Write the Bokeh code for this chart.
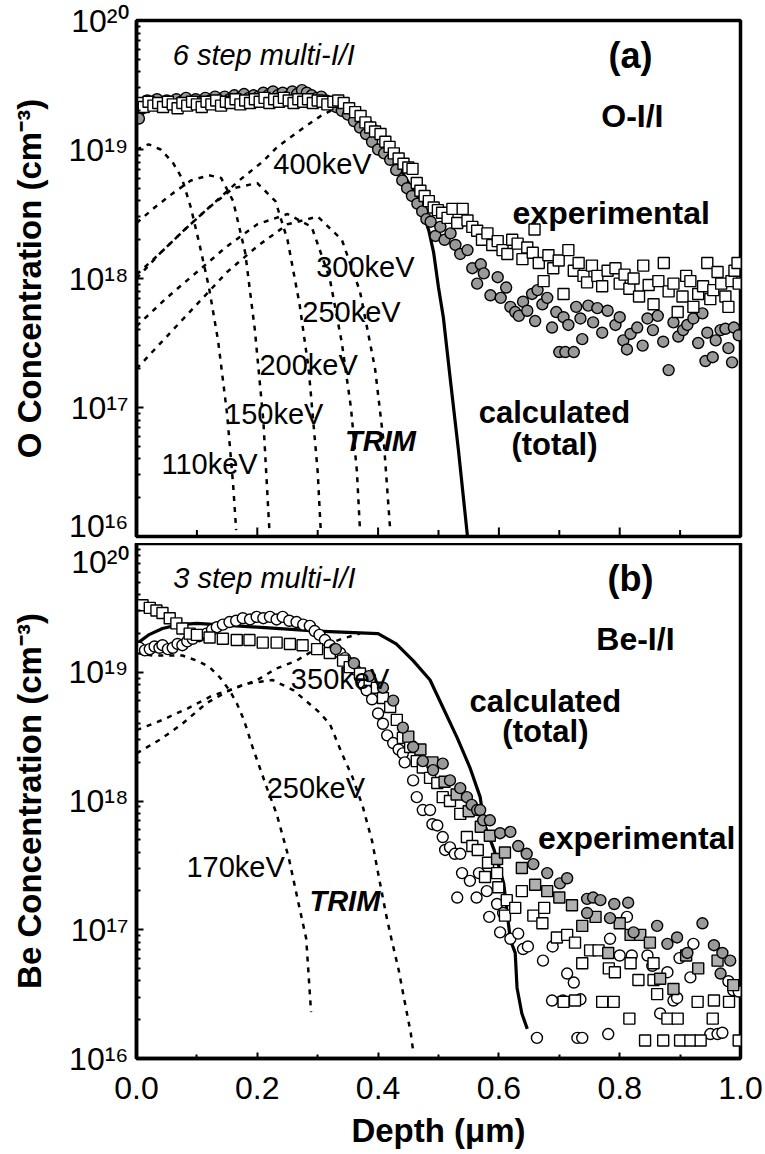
from bokeh.plotting import figure
from bokeh.layouts import column
from bokeh.models import Range1d, FixedTicker, Label
from bokeh.embed import file_html
from bokeh.resources import INLINE

FONT = "Liberation Sans"

# ---------------- Panel (a): O implantation (values are log10 of concentration, cm^-3) ----------------
a_sq_x = [0.004,0.012,0.020,0.028,0.036,0.044,0.052,0.060,0.068,0.076,0.084,0.092,0.100,0.108,0.116,0.124,0.132,0.140,0.148,0.156,
          0.164,0.172,0.180,0.188,0.196,0.204,0.212,0.220,0.228,0.236,0.244,0.252,0.260,0.268,0.276,0.284,0.292,0.300,0.308,0.316,
          0.326,0.334,0.343,0.352,0.362,0.371,0.379,0.387,0.395,0.404,0.412,0.419,0.426,0.434,0.442,0.450,0.457,0.464,0.470,0.477,
          0.484,0.492,0.499,0.506,0.515,0.523,0.531,0.540,0.548,0.556,0.564,0.572,0.581,0.589,0.598,0.606,0.614,0.622,0.631,0.639,
          0.647,0.656,0.659,0.666,0.674,0.682,0.690,0.699,0.707,0.715,0.724,0.732,0.740,0.746,0.754,0.763,0.771,0.780,0.793,0.800,
          0.808,0.816,0.823,0.832,0.839,0.848,0.856,0.864,0.873,0.881,0.889,0.896,0.904,0.910,0.917,0.922,0.930,0.938,0.945,0.950,
          0.955,0.962,0.968,0.975,0.980,0.985,0.990,0.995,0.997]
a_sq_log = [19.36,19.33,19.37,19.34,19.36,19.33,19.37,19.35,19.32,19.36,19.34,19.37,19.35,19.33,19.37,19.35,19.38,19.34,19.37,19.36,
            19.39,19.35,19.38,19.36,19.39,19.37,19.40,19.36,19.39,19.37,19.40,19.38,19.36,19.39,19.37,19.39,19.36,19.38,19.37,19.35,
            19.37,19.38,19.36,19.32,19.29,19.26,19.21,19.17,19.14,19.12,19.06,19.02,18.97,18.93,18.89,18.86,18.85,18.74,18.68,18.64,
            18.60,18.55,18.53,18.51,18.47,18.54,18.43,18.54,18.45,18.40,18.37,18.30,18.35,18.26,18.29,18.22,18.19,18.30,18.27,18.15,
            18.24,18.20,18.38,18.12,17.98,18.18,18.08,18.14,17.88,18.22,18.06,18.12,18.02,17.97,18.10,18.02,17.94,18.06,18.08,17.96,
            18.03,17.92,18.00,17.86,18.10,17.95,17.80,17.98,18.12,17.90,17.96,17.74,17.86,18.02,17.98,17.78,17.88,17.94,18.12,17.84,
            17.91,18.05,17.96,17.86,17.78,17.98,18.06,18.12,17.96]

a_ci_x = [0.004,0.010,0.018,0.026,0.034,0.042,0.050,0.058,0.066,0.074,0.082,0.090,0.098,0.106,0.114,0.122,0.130,0.138,0.146,0.154,
          0.162,0.170,0.178,0.186,0.194,0.202,0.210,0.218,0.226,0.234,0.242,0.250,0.258,0.266,0.274,0.282,0.290,0.298,0.306,0.314,
          0.322,0.330,0.340,0.350,0.360,0.370,0.380,0.390,0.400,0.410,0.420,0.430,0.440,0.448,0.456,0.465,0.473,0.480,0.487,0.495,
          0.503,0.510,0.520,0.528,0.536,0.548,0.556,0.564,0.570,0.575,0.586,0.598,0.603,0.612,0.619,0.627,0.633,0.640,0.647,0.655,
          0.660,0.664,0.672,0.680,0.688,0.695,0.700,0.707,0.710,0.715,0.724,0.728,0.735,0.738,0.748,0.756,0.763,0.771,0.780,0.793,
          0.800,0.806,0.812,0.818,0.829,0.838,0.846,0.855,0.863,0.872,0.881,0.889,0.897,0.905,0.912,0.922,0.930,0.937,0.942,0.945,
          0.954,0.959,0.967,0.975,0.980,0.986,0.989,0.997]
a_ci_log = [19.24,19.35,19.38,19.35,19.39,19.36,19.38,19.35,19.39,19.37,19.40,19.36,19.39,19.37,19.40,19.38,19.41,19.38,19.41,19.39,
            19.42,19.40,19.43,19.40,19.42,19.41,19.44,19.42,19.45,19.42,19.44,19.41,19.45,19.43,19.46,19.44,19.42,19.40,19.41,19.38,
            19.36,19.33,19.30,19.27,19.22,19.17,19.12,19.06,19.00,18.97,18.92,18.84,18.76,18.70,18.64,18.58,18.52,18.46,18.44,18.33,
            18.40,18.30,18.35,18.26,18.19,18.22,18.08,17.96,18.11,18.04,17.87,18.01,17.85,17.93,17.78,17.74,17.71,17.82,17.75,17.88,
            17.67,17.91,17.80,17.85,17.62,17.74,17.43,17.70,17.43,17.64,17.43,17.78,17.69,17.53,17.79,17.66,17.77,17.58,17.75,17.64,
            17.70,17.52,17.45,17.57,17.62,17.48,17.69,17.60,17.71,17.51,17.29,17.66,17.55,17.60,17.64,17.69,17.50,17.73,17.36,17.58,
            17.39,17.52,17.60,17.61,17.46,17.35,17.62,17.56]

a_calc_x = [0.0,0.01,0.03,0.06,0.10,0.15,0.20,0.25,0.30,0.33,0.35,0.376,0.399,0.415,0.432,0.448,0.465,0.475,0.484,0.492,0.500,0.508,0.520,0.533,0.548]
a_calc_log = [19.22,19.28,19.33,19.35,19.36,19.37,19.38,19.38,19.37,19.35,19.32,19.26,19.17,19.03,18.89,18.76,18.63,18.50,18.37,18.20,17.93,17.70,17.20,16.67,16.0]

a_trim_110_x = [0.0,0.02,0.04,0.06,0.075,0.09,0.105,0.12,0.135,0.15,0.16,0.165]
a_trim_110_log = [19.0,19.04,19.0,18.9,18.78,18.55,18.25,17.93,17.52,16.95,16.4,16.05]
a_trim_150_x = [0.0,0.03,0.06,0.09,0.12,0.14,0.16,0.18,0.196,0.21,0.22]
a_trim_150_log = [18.43,18.55,18.66,18.76,18.80,18.78,18.60,18.20,17.60,16.90,16.05]
a_trim_200_x = [0.0,0.04,0.08,0.12,0.16,0.20,0.23,0.25,0.27,0.285,0.30,0.305]
a_trim_200_log = [18.03,18.20,18.38,18.55,18.70,18.74,18.60,18.30,17.80,17.30,16.50,16.05]
a_trim_250_x = [0.0,0.05,0.10,0.15,0.20,0.25,0.29,0.32,0.34,0.355,0.365,0.37]
a_trim_250_log = [17.63,17.85,18.05,18.25,18.42,18.50,18.40,18.00,17.50,17.00,16.50,16.05]
a_trim_300_x = [0.0,0.05,0.10,0.15,0.20,0.25,0.30,0.34,0.37,0.395,0.41,0.42]
a_trim_300_log = [17.30,17.55,17.80,18.05,18.25,18.42,18.48,18.30,17.90,17.30,16.70,16.05]
a_trim_400_x = [0.0,0.04,0.08,0.12,0.17,0.21,0.233,0.277,0.305,0.321,0.34]
a_trim_400_log = [18.0,18.2,18.38,18.55,18.76,18.91,19.02,19.17,19.26,19.30,19.33]

# ---------------- Panel (b): Be implantation ----------------
b_ci_x = [0.005,0.014,0.022,0.030,0.038,0.043,0.052,0.060,0.068,0.076,0.084,0.093,0.104,0.116,0.125,0.133,0.143,0.154,0.165,0.176,
          0.188,0.199,0.210,0.221,0.232,0.242,0.253,0.265,0.276,0.287,0.295,0.303,0.312,0.320,0.328,0.337,0.345,0.353,0.362,0.370,
          0.376,0.381,0.390,0.400,0.408,0.415,0.425,0.434,0.441,0.444,0.458,0.464,0.474,0.486,0.490,0.498,0.507,0.511,0.519,0.527,
          0.531,0.536,0.539,0.552,0.563,0.567,0.580,0.584,0.597,0.602,0.607,0.619,0.632,0.640,0.648,0.663,0.673,0.688,0.689,0.706,
          0.713,0.724,0.730,0.735,0.738,0.781,0.784,0.800,0.812,0.820,0.846,0.854,0.867,0.879,0.889,0.895,0.899,0.917,0.922,0.950,
          0.962,0.970,0.980,0.988,0.997]
b_ci_log = [19.19,19.17,19.18,19.20,19.19,19.21,19.18,19.19,19.22,19.21,19.24,19.26,19.28,19.30,19.33,19.35,19.37,19.39,19.40,19.42,
            19.41,19.43,19.42,19.43,19.41,19.43,19.40,19.39,19.37,19.36,19.32,19.29,19.25,19.21,19.18,19.15,19.11,19.07,19.02,18.96,
            18.90,18.86,18.79,18.68,18.60,18.51,18.45,18.40,18.37,18.30,18.16,18.03,17.93,17.93,17.82,17.81,17.72,17.62,17.64,17.59,
            17.25,17.59,17.44,17.38,17.25,17.44,17.30,17.10,17.20,16.98,17.13,16.93,16.97,16.85,16.87,16.16,16.76,16.45,16.87,16.45,
            16.66,16.59,16.16,16.46,16.16,16.19,16.93,16.80,17.10,16.80,16.80,16.72,16.35,16.67,16.45,16.47,16.78,16.63,16.89,16.19,
            16.19,16.20,16.60,16.53,16.52]

b_sq_x = [0.010,0.022,0.033,0.043,0.055,0.066,0.076,0.088,0.100,0.121,0.143,0.166,0.187,0.209,0.232,0.254,0.275,0.299,0.320,0.342,
          0.353,0.370,0.386,0.398,0.408,0.420,0.431,0.441,0.453,0.464,0.474,0.486,0.498,0.507,0.519,0.536,0.547,0.556,0.565,0.577,
          0.582,0.597,0.599,0.610,0.613,0.627,0.638,0.657,0.672,0.675,0.696,0.707,0.713,0.726,0.726,0.738,0.751,0.765,0.771,0.782,
          0.790,0.792,0.816,0.818,0.831,0.842,0.856,0.856,0.862,0.872,0.879,0.896,0.900,0.917,0.929,0.934,0.954,0.956,0.981,0.997]
b_sq_log = [19.52,19.50,19.48,19.46,19.42,19.38,19.34,19.30,19.29,19.27,19.26,19.25,19.25,19.23,19.23,19.22,19.21,19.18,19.15,19.09,
            19.04,18.99,18.94,18.88,18.80,18.73,18.63,18.49,18.42,18.31,18.26,18.18,18.14,18.03,18.00,17.90,17.72,17.65,17.62,17.41,
            17.52,17.44,17.33,17.11,17.23,17.17,17.30,17.11,17.05,17.17,16.94,16.44,16.96,16.90,16.45,16.74,16.84,16.84,16.44,16.70,
            16.44,16.67,16.31,16.74,16.61,16.14,16.74,16.61,16.50,16.14,16.31,16.31,16.14,16.14,16.44,16.14,16.31,16.45,16.44,16.14]

b_gsq_x = [0.450,0.470,0.490,0.510,0.530,0.550,0.570,0.585,0.597,0.610,0.638,0.660,0.680,0.700,0.721,0.738,0.760,0.781,0.800,0.818,
           0.834,0.850,0.867,0.889,0.910,0.930,0.962,0.988]
b_gsq_log = [18.50,18.40,18.30,18.15,18.05,17.92,17.80,17.73,17.55,17.60,17.48,17.35,17.30,17.25,17.19,17.03,17.10,16.82,17.05,16.96,
             16.96,16.90,16.62,16.54,16.80,16.70,16.76,16.57]

b_gci_x = [0.330,0.360,0.385,0.408,0.425,0.441,0.458,0.474,0.491,0.507,0.519,0.536,0.547,0.555,0.564,0.569,0.574,0.585,0.602,0.619,
           0.632,0.646,0.657,0.680,0.701,0.713,0.746,0.746,0.756,0.768,0.784,0.791,0.814,0.823,0.862,0.879,0.895,0.912,0.937,0.956,
           0.967,0.970,0.983]
b_gci_log = [19.18,19.07,18.97,18.88,18.78,18.57,18.42,18.31,18.24,18.29,18.16,18.10,18.03,17.97,17.93,17.93,17.85,17.85,17.75,17.76,
             17.65,17.59,17.51,17.44,17.36,17.40,17.24,17.13,17.25,17.23,17.09,17.20,17.21,16.98,17.03,16.89,16.94,16.82,17.05,16.88,
             16.66,16.82,16.76]

b_calc_x = [0.0,0.02,0.043,0.07,0.10,0.20,0.30,0.40,0.43,0.458,0.486,0.507,0.531,0.552,0.569,0.576,0.592,0.608,0.619,0.627,0.630,0.638,0.647]
b_calc_log = [19.22,19.29,19.34,19.37,19.38,19.35,19.32,19.30,19.22,19.09,18.94,18.73,18.49,18.26,18.03,17.82,17.62,17.36,16.92,16.82,16.55,16.35,16.23]

b_trim_170_x = [0.0,0.027,0.05,0.076,0.10,0.121,0.138,0.154,0.166,0.176,0.182,0.192,0.204,0.216,0.232,0.252,0.268,0.281,0.289]
b_trim_170_log = [19.15,19.13,19.13,19.13,19.09,19.04,18.96,18.86,18.76,18.65,18.57,18.42,18.26,18.10,17.90,17.56,17.21,16.93,16.36]
b_trim_250_x = [0.0,0.043,0.085,0.126,0.154,0.18,0.225,0.26,0.30,0.32,0.34,0.358,0.375,0.39,0.40,0.414,0.422,0.434,0.442,0.454,0.458]
b_trim_250_log = [18.55,18.63,18.72,18.82,18.86,18.91,18.94,18.86,18.70,18.60,18.37,18.18,17.95,17.69,17.44,17.10,16.93,16.69,16.49,16.20,16.06]
b_trim_350_x = [0.0,0.04,0.076,0.116,0.154,0.20,0.232,0.265,0.30,0.34,0.37]
b_trim_350_log = [18.37,18.48,18.60,18.76,18.86,18.94,19.03,19.09,19.19,19.26,19.30]

y_major = [1e16, 1e17, 1e18, 1e19, 1e20]
y_major_text = ["10\u00b9\u2076", "10\u00b9\u2077", "10\u00b9\u2078", "10\u00b9\u2079", "10\u00b2\u2070"]
x_major = [0.0, 0.2, 0.4, 0.6, 0.8, 1.0]
x_major_text = ["0.0", "0.2", "0.4", "0.6", "0.8", "1.0"]
x_minor = [0.1, 0.3, 0.5, 0.7, 0.9]

GRAY = "#999999"


def pw(vals):
    return [10 ** v for v in vals]


def panel(height, top, bottom, ylabel, show_x):
    p = figure(width=765, height=height, x_range=Range1d(0, 1), y_range=Range1d(1e16, 1e20),
               y_axis_type="log", output_backend="svg", toolbar_location=None,
               min_border_left=136, min_border_right=25, min_border_top=top, min_border_bottom=bottom)
    p.grid.visible = False
    p.background_fill_color = "white"
    p.border_fill_color = "white"
    p.outline_line_color = "black"
    p.outline_line_width = 3.5
    p.outline_line_alpha = 1.0
    ya = p.yaxis[0]
    ya.ticker = FixedTicker(ticks=y_major, minor_ticks=[m * 10 ** e for e in range(16, 20) for m in range(2, 10)])
    ya.major_label_overrides = {t: s for t, s in zip(y_major, y_major_text)}
    ya.major_label_text_font = FONT
    ya.major_label_text_font_size = "32px"
    ya.major_label_text_color = "black"
    ya.major_label_standoff = 8
    ya.major_tick_in = 7
    ya.major_tick_out = 0
    ya.minor_tick_in = 4
    ya.minor_tick_out = 0
    ya.major_tick_line_width = 2
    ya.minor_tick_line_width = 2
    ya.axis_line_width = 3.5
    ya.axis_line_color = "black"
    ya.axis_label = ylabel
    ya.axis_label_text_font = FONT
    ya.axis_label_text_font_style = "bold"
    ya.axis_label_text_font_size = "33px"
    ya.axis_label_text_color = "black"
    ya.axis_label_standoff = 18
    xa = p.xaxis[0]
    if show_x:
        xa.ticker = FixedTicker(ticks=x_major, minor_ticks=x_minor)
        xa.axis_line_width = 3.5
        xa.axis_line_color = "black"
        xa.major_tick_in = 6
        xa.major_tick_out = 0
        xa.minor_tick_in = 4
        xa.minor_tick_out = 0
        xa.major_tick_line_width = 2
        xa.minor_tick_line_width = 2
        xa.major_label_overrides = {t: s for t, s in zip(x_major, x_major_text)}
        xa.major_label_text_font = FONT
        xa.major_label_text_font_size = "32px"
        xa.major_label_text_color = "black"
        xa.major_label_standoff = 18
        xa.axis_label = "Depth (\u03bcm)"
        xa.axis_label_text_font = FONT
        xa.axis_label_text_font_style = "bold"
        xa.axis_label_text_font_size = "33px"
        xa.axis_label_text_color = "black"
        xa.axis_label_standoff = 10
    else:
        xa.visible = False
        # inward tick marks along the bottom edge of the upper panel
        p.segment(x0=x_major, y0=[1e16] * len(x_major), x1=x_major, y1=[10 ** 16.07] * len(x_major),
                  line_color="black", line_width=2)
        p.segment(x0=x_minor, y0=[1e16] * len(x_minor), x1=x_minor, y1=[10 ** 16.05] * len(x_minor),
                  line_color="black", line_width=2)
    return p


def dashed(p, xs, ls):
    p.line(xs, pw(ls), line_color="black", line_width=2.5, line_dash="5 6")


def add_text(p, text, x, ly, size, style="normal", align="center"):
    p.add_layout(Label(x=x, y=10 ** ly, text=text, text_font=FONT, text_font_size=size,
                       text_font_style=style, text_align=align, text_baseline="middle", text_color="black"))


# ----- panel (a)
p1 = panel(543, 20, 7, "O Concentration (cm\u207b\u00b3)", False)
for xs, ls in [(a_trim_110_x, a_trim_110_log), (a_trim_150_x, a_trim_150_log), (a_trim_200_x, a_trim_200_log),
               (a_trim_250_x, a_trim_250_log), (a_trim_300_x, a_trim_300_log), (a_trim_400_x, a_trim_400_log)]:
    dashed(p1, xs, ls)
p1.line(a_calc_x, pw(a_calc_log), line_color="black", line_width=3.2)
p1.scatter(a_ci_x, pw(a_ci_log), marker="circle", size=11, fill_color=GRAY, line_color="black", line_width=1.4)
p1.scatter(a_sq_x, pw(a_sq_log), marker="square", size=11, fill_color="white", line_color="black", line_width=1.4)

add_text(p1, "6 step multi-I/I", 0.06, 19.73, "29px", "italic", "left")
add_text(p1, "(a)", 0.818, 19.73, "36px", "bold")
add_text(p1, "O-I/I", 0.821, 19.26, "32px", "bold")
add_text(p1, "experimental", 0.786, 18.51, "32px", "bold")
add_text(p1, "calculated", 0.692, 16.96, "31px", "bold")
add_text(p1, "(total)", 0.692, 16.71, "31px", "bold")
add_text(p1, "400keV", 0.308, 18.89, "29px")
add_text(p1, "300keV", 0.379, 18.09, "29px")
add_text(p1, "250keV", 0.356, 17.74, "29px")
add_text(p1, "200keV", 0.285, 17.33, "29px")
add_text(p1, "150keV", 0.228, 16.95, "29px")
add_text(p1, "110keV", 0.121, 16.56, "29px")
add_text(p1, "TRIM", 0.404, 16.74, "29px", "bold italic")

# ----- panel (b)
p2 = panel(611, 0, 96, "Be Concentration (cm\u207b\u00b3)", True)
for xs, ls in [(b_trim_170_x, b_trim_170_log), (b_trim_250_x, b_trim_250_log), (b_trim_350_x, b_trim_350_log)]:
    dashed(p2, xs, ls)
p2.line(b_calc_x, pw(b_calc_log), line_color="black", line_width=3.2)
p2.scatter(b_ci_x, pw(b_ci_log), marker="circle", size=11, fill_color="white", line_color="black", line_width=1.4)
p2.scatter(b_sq_x, pw(b_sq_log), marker="square", size=11, fill_color="white", line_color="black", line_width=1.4)
p2.scatter(b_gsq_x, pw(b_gsq_log), marker="square", size=11, fill_color="#b0b0b0", line_color="black", line_width=1.4)
p2.scatter(b_gci_x, pw(b_gci_log), marker="circle", size=11, fill_color=GRAY, line_color="black", line_width=1.4)

add_text(p2, "3 step multi-I/I", 0.061, 19.73, "29px", "italic", "left")
add_text(p2, "(b)", 0.818, 19.73, "36px", "bold")
add_text(p2, "Be-I/I", 0.826, 19.26, "32px", "bold")
add_text(p2, "350keV", 0.337, 18.95, "29px")
add_text(p2, "calculated", 0.677, 18.77, "31px", "bold")
add_text(p2, "(total)", 0.677, 18.54, "31px", "bold")
add_text(p2, "250keV", 0.297, 18.10, "29px")
add_text(p2, "experimental", 0.828, 17.71, "32px", "bold")
add_text(p2, "170keV", 0.164, 17.49, "29px")
add_text(p2, "TRIM", 0.345, 17.22, "29px", "bold italic")

layout = column(p1, p2, spacing=0)
open("out.html", "w").write(file_html(layout, INLINE))
